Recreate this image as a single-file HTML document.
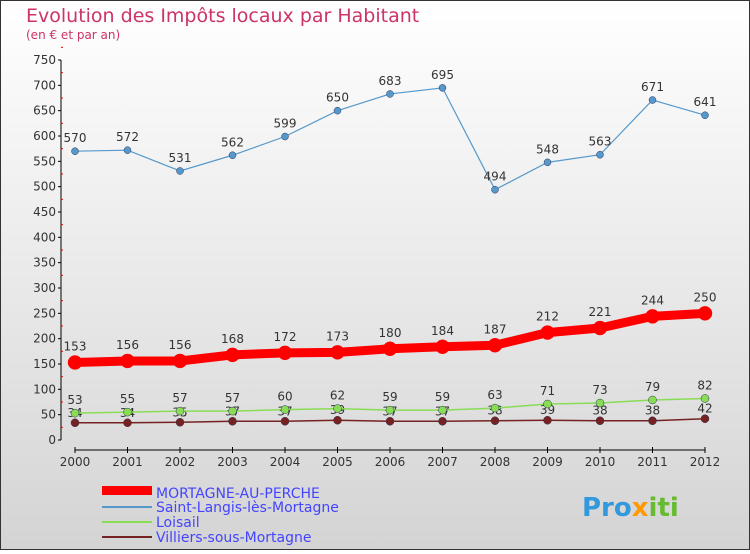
<!DOCTYPE html>
<html><head><meta charset="utf-8"><style>
body{margin:0;width:750px;height:550px;overflow:hidden;font-family:"DejaVu Sans","Liberation Sans",sans-serif}
</style></head><body>
<svg id="c" width="750" height="550" xmlns="http://www.w3.org/2000/svg">
<defs><linearGradient id="bg" x1="0" y1="0" x2="0" y2="1"><stop offset="0" stop-color="#ffffff"/><stop offset="1" stop-color="#d4d4d4"/></linearGradient></defs>
<rect x="0.5" y="0.5" width="749" height="549" fill="url(#bg)" stroke="#333"/>
<text x="26" y="22" font-size="19" fill="#cc3366">Evolution des Impôts locaux par Habitant</text>
<text x="26" y="39" font-size="12" fill="#cc3366">(en € et par an)</text>
<g id="axes"></g><g id="series"></g>
<g>
<rect x="102" y="486" width="50" height="9" fill="#ff0000"/>
<text x="156" y="498" font-size="14" fill="#4444ff">MORTAGNE-AU-PERCHE</text>
<line x1="102" y1="507" x2="152" y2="507" stroke="#5599cc" stroke-width="2"/>
<text x="156" y="512" font-size="14" fill="#4444ff">Saint-Langis-lès-Mortagne</text>
<line x1="102" y1="522" x2="152" y2="522" stroke="#88dd55" stroke-width="2"/>
<text x="156" y="527" font-size="14" fill="#4444ff">Loisail</text>
<line x1="102" y1="537" x2="152" y2="537" stroke="#772222" stroke-width="2"/>
<text x="156" y="542" font-size="14" fill="#4444ff">Villiers-sous-Mortagne</text>
</g>
<text x="582" y="516" font-size="26" font-weight="bold" fill="#3399dd">Pro<tspan fill="#ff9900">x</tspan><tspan fill="#66bb33">iti</tspan></text>
</svg>
<script>
const years=[2000,2001,2002,2003,2004,2005,2006,2007,2008,2009,2010,2011,2012];
const yTicks=[0,50,100,150,200,250,300,350,400,450,500,550,600,650,700,750];
const mortagne=[153,156,156,168,172,173,180,184,187,212,221,244,250];
const saintLangis=[570,572,531,562,599,650,683,695,494,548,563,671,641];
const loisail=[53,55,57,57,60,62,59,59,63,71,73,79,82];
const villiers=[34,34,35,37,37,39,37,37,38,39,38,38,42];
const NS="http://www.w3.org/2000/svg";
const X=i=>75+i*52.5, Y=v=>440-v*380/750;
function mk(p,t,a){const e=document.createElementNS(NS,t);for(const k in a)e.setAttribute(k,a[k]);p.appendChild(e);return e;}
const ax=document.getElementById('axes'), sg=document.getElementById('series');
let yl=mk(ax,'line',{x1:61,y1:60,x2:61,y2:440,stroke:'#000'});


yTicks.forEach(v=>{mk(ax,'line',{x1:58,y1:Y(v),x2:61,y2:Y(v),stroke:'#000'});
 mk(ax,'line',{x1:61,y1:Y(v+25),x2:63,y2:Y(v+25),stroke:'#e00'});
 const t=mk(ax,'text',{x:56,y:Y(v)+4,'font-size':12,fill:'#333','text-anchor':'end'});t.textContent=v;
 
 });
let xl=mk(ax,'line',{x1:X(0),y1:450,x2:X(12),y2:450,stroke:'#000'});


years.forEach((y,i)=>{mk(ax,'line',{x1:X(i),y1:447,x2:X(i),y2:453,stroke:'#000'});
 const t=mk(ax,'text',{x:X(i),y:466,'font-size':12,fill:'#333','text-anchor':'middle'});t.textContent=y;
 
 });
function series(name,vals,col,w,r,lab,dy){
 const g=mk(sg,'g',{});
 
 
 const p=mk(g,'polyline',{points:vals.map((v,i)=>X(i)+','+Y(v)).join(' '),fill:'none',stroke:col,'stroke-width':w});
 
 
 vals.forEach((v,i)=>{const c=mk(g,'circle',{cx:X(i),cy:Y(v),r:r,fill:col,stroke:w>3?col:'#335',"stroke-width":0.5});
  
  
  if(lab){const t=mk(g,'text',{x:X(i),y:Y(v)+dy,'font-size':12,fill:'#333','text-anchor':'middle'});t.textContent=v;
  
  }});
}
series('villiers',villiers,'#772222',1.5,4,true,-6);
series('loisail',loisail,'#88dd55',1.5,4,true,-9);
series('saint-langis',saintLangis,'#5599cc',1.2,3.5,true,-9);
series('mortagne',mortagne,'#ff0000',9,7,true,-12);
</script>
</body></html>
